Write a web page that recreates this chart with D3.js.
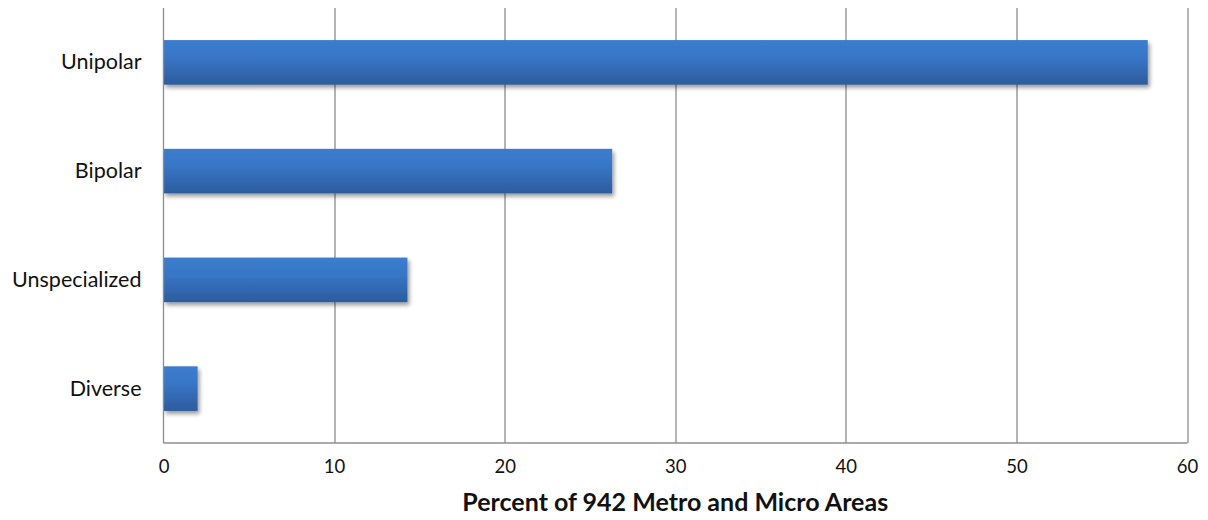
<!DOCTYPE html>
<html>
<head>
<meta charset="utf-8">
<script src="https://cdn.jsdelivr.net/npm/d3@7"></script>
<style>
  html, body { margin: 0; padding: 0; background: #fff; }
  svg { display: block; }
</style>
</head>
<body>
<svg id="chart" width="1208" height="520"></svg>
<script>
// Share of metro and micro areas by specialization type
const categories = ["Unipolar", "Bipolar", "Unspecialized", "Diverse"];
const values = [57.7, 26.3, 14.3, 2.0];
const tickValues = [0, 10, 20, 30, 40, 50, 60];
const axisTitle = "Percent of 942 Metro and Micro Areas";

const svg = d3.select("#chart");
const margin = { left: 163.5, right: 21, top: 8, bottom: 77 };
const W = 1208, H = 520;
const innerW = W - margin.left - margin.right;
const innerH = H - margin.top - margin.bottom;
const fontFamily = "Lato, 'Open Sans', sans-serif";

const x = d3.scaleLinear().domain([0, 60]).range([0, innerW]);
const y = d3.scaleBand().domain(categories).range([0, innerH]).paddingInner(0.59).paddingOuter(0.295);

const defs = svg.append("defs");
const grad = defs.append("linearGradient").attr("id", "barGrad")
  .attr("x1", 0).attr("y1", 0).attr("x2", 0).attr("y2", 1);
grad.append("stop").attr("offset", "0%").attr("stop-color", "#3a7ccd");
grad.append("stop").attr("offset", "35%").attr("stop-color", "#3977c8");
grad.append("stop").attr("offset", "100%").attr("stop-color", "#2c5c9d");

const shadow = defs.append("filter").attr("id", "barShadow")
  .attr("x", "-10%").attr("y", "-20%").attr("width", "130%").attr("height", "160%");
shadow.append("feGaussianBlur").attr("in", "SourceAlpha").attr("stdDeviation", 2.2).attr("result", "blur");
shadow.append("feOffset").attr("in", "blur").attr("dx", 2).attr("dy", 3).attr("result", "off");
shadow.append("feComponentTransfer").attr("in", "off").attr("result", "soft")
  .append("feFuncA").attr("type", "linear").attr("slope", 0.4);
const merge = shadow.append("feMerge");
merge.append("feMergeNode").attr("in", "soft");
merge.append("feMergeNode").attr("in", "SourceGraphic");

const g = svg.append("g").attr("transform", `translate(${margin.left},${margin.top})`);

// Vertical gridlines
g.append("g").selectAll("line").data(tickValues.slice(1)).join("line")
  .attr("x1", d => Math.round(x(d)) + 0.5).attr("x2", d => Math.round(x(d)) + 0.5)
  .attr("y1", 0).attr("y2", innerH)
  .attr("stroke", "#8c8c8c").attr("stroke-width", 1.3);

// Bars
g.append("g").selectAll("rect").data(values).join("rect")
  .attr("x", x(0))
  .attr("y", (d, i) => y(categories[i]))
  .attr("width", d => x(d) - x(0))
  .attr("height", y.bandwidth())
  .attr("fill", "url(#barGrad)")
  .attr("filter", "url(#barShadow)");

// Axes frame: left and bottom lines
g.append("line").attr("x1", 0).attr("x2", 0).attr("y1", 0).attr("y2", innerH)
  .attr("stroke", "#8c8c8c").attr("stroke-width", 1.3);
g.append("line").attr("x1", 0).attr("x2", innerW + 0.5).attr("y1", innerH).attr("y2", innerH)
  .attr("stroke", "#8c8c8c").attr("stroke-width", 1.3);

// Bottom tick labels
const xAxis = d3.axisBottom(x).tickValues(tickValues).tickSize(0).tickPadding(17);
const xg = g.append("g").attr("transform", `translate(0,${innerH})`).call(xAxis);
xg.select(".domain").remove();
xg.selectAll("text").attr("font-family", fontFamily)
  .attr("font-size", 18.5).attr("fill", "#111");

// Category labels
const yAxis = d3.axisLeft(y).tickSize(0).tickPadding(22);
const yg = g.append("g").call(yAxis);
yg.select(".domain").remove();
yg.selectAll("text").attr("font-family", fontFamily)
  .attr("font-size", 21.5).attr("fill", "#111");

// Axis title
svg.append("text")
  .attr("x", margin.left + innerW / 2)
  .attr("y", 511)
  .attr("text-anchor", "middle")
  .attr("font-family", fontFamily)
  .attr("font-weight", "bold")
  .attr("font-size", 25)
  .attr("fill", "#111")
  .text(axisTitle);
</script>
</body>
</html>
